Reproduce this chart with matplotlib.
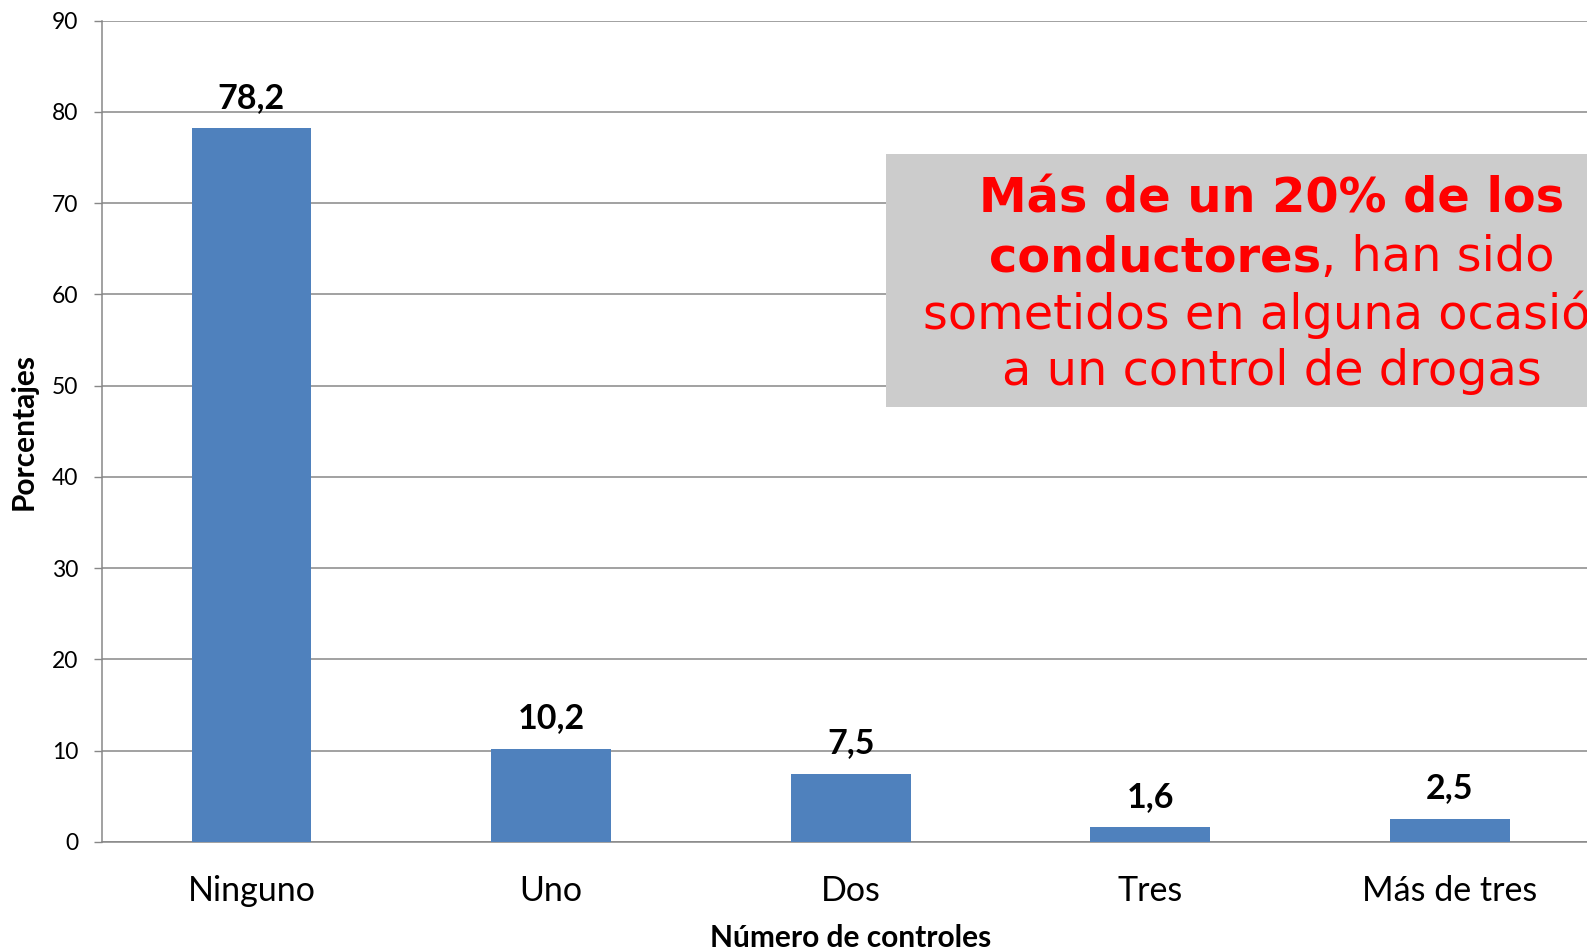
import matplotlib
matplotlib.use("Agg")
import matplotlib.pyplot as plt
from matplotlib.patches import Rectangle
from matplotlib.offsetbox import TextArea, HPacker, AnnotationBbox

# Datos del grafico
categorias = ["Ninguno", "Uno", "Dos", "Tres", "Más de tres"]
porcentajes = [78.2, 10.2, 7.5, 1.6, 2.5]
etiquetas = ["78,2", "10,2", "7,5", "1,6", "2,5"]
yticks = [0, 10, 20, 30, 40, 50, 60, 70, 80, 90]

W, H = 1587, 952
fig = plt.figure(figsize=(W / 100, H / 100), dpi=100)
plt.rcParams["font.family"] = ["Lato", "DejaVu Sans"]

# el eje se sale un poco por la derecha, como en la imagen original
ax = fig.add_axes([101.7 / W, 1 - 842 / H, 1498 / W, 821.3 / H])

gris = "#878787"
x = range(len(categorias))
ax.bar(x, porcentajes, width=0.4, color="#4F81BD", zorder=3)

for xi, v, lab in zip(x, porcentajes, etiquetas):
    ax.annotate(lab, (xi, v), xytext=(0, 15), textcoords="offset points",
                ha="center", va="baseline", fontsize=24.5, fontweight="bold")

ax.set_xlim(-0.5, 4.5)
ax.set_ylim(0, 90)
ax.set_yticks(yticks)
ax.set_xticks(list(x))
ax.set_xticklabels(categorias, fontsize=24.5)
ax.tick_params(axis="y", labelsize=16.5, length=6, width=1, color=gris, pad=11)
ax.tick_params(axis="x", length=0, pad=24)
ax.yaxis.grid(True, color=gris, linewidth=1.1, zorder=0)
ax.set_axisbelow(True)
for s in ["top", "right"]:
    ax.spines[s].set_visible(False)
for s in ["left", "bottom"]:
    ax.spines[s].set_color(gris)
    ax.spines[s].set_linewidth(1.1)

ax.set_xlabel("Número de controles", fontsize=21.5, fontweight="bold", labelpad=12)
ax.set_ylabel("Porcentajes", fontsize=21.5, fontweight="bold", labelpad=10)

# recuadro gris con el mensaje
fig.add_artist(Rectangle((885.6 / W, 1 - 407 / H), 0.5, (407 - 154) / H,
                         transform=fig.transFigure, facecolor="#CCCCCC",
                         edgecolor="none", zorder=5))

rojo = "#FF0000"
cx = 1272 / W
fs = 34.5
fig.text(cx, 1 - 212.5 / H, "Más de un 20% de los", ha="center", va="baseline",
         color=rojo, fontsize=fs, fontweight="bold", family="DejaVu Sans", zorder=6)

linea2 = HPacker(children=[
    TextArea("conductores", textprops=dict(color=rojo, fontsize=fs, fontweight="bold",
                                           family="DejaVu Sans")),
    TextArea(", han sido", textprops=dict(color=rojo, fontsize=fs, family="DejaVu Sans")),
], align="baseline", pad=0, sep=0)
ab = AnnotationBbox(linea2, (cx, 1 - 271 / H), xycoords="figure fraction",
                    box_alignment=(0.5, 0.22), frameon=False, zorder=6)
fig.add_artist(ab)

fig.text(cx, 1 - 329 / H, "sometidos en alguna ocasión", ha="center", va="baseline",
         color=rojo, fontsize=fs, family="DejaVu Sans", zorder=6)
fig.text(cx, 1 - 384.6 / H, "a un control de drogas", ha="center", va="baseline",
         color=rojo, fontsize=fs, family="DejaVu Sans", zorder=6)

fig.savefig("out.png", dpi=100)
